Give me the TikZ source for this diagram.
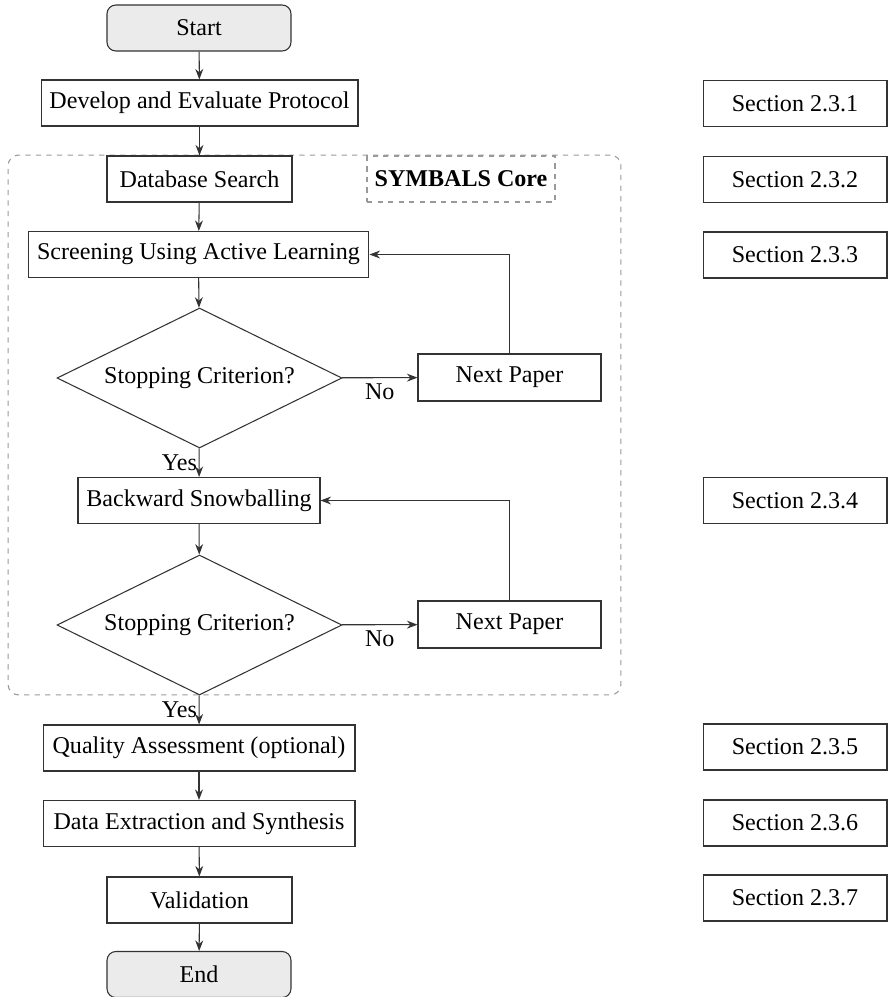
\documentclass[tikz,border=0pt]{standalone}
\usepackage{fontspec}
\setmainfont{Liberation Serif}
\usetikzlibrary{shapes.geometric,arrows.meta}
\definecolor{linec}{HTML}{333333}
\definecolor{termfill}{HTML}{EBEBEB}
\definecolor{dashc}{HTML}{999999}
\begin{document}
\begin{tikzpicture}[x=0.02cm,y=-0.02cm,
  font=\fontsize{13.7}{16}\selectfont,
  every path/.style={line width=0.6pt},
  box/.style={draw=linec,rectangle,minimum height=0.92cm,inner sep=0pt,text=black},
  term/.style={box,rounded corners=5pt,fill=termfill,minimum width=3.68cm},
  secbox/.style={box,minimum width=3.68cm},
  decis/.style={draw=linec,diamond,minimum width=5.7cm,minimum height=2.8cm,aspect=2.04,inner sep=0pt},
  arr/.style={draw=linec,-{Stealth[length=6pt,width=4.5pt]}},
  lbl/.style={inner sep=1pt}]
\useasboundingbox (0,0) rectangle (890,997);
% container
\node[draw=dashc,dashed,rounded corners=6pt,minimum width=12.26cm,minimum height=10.8cm,inner sep=0pt] (core) at (314.5,425) {};
\node[draw=dashc,dashed,minimum width=3.76cm,minimum height=0.92cm,inner sep=0pt,font=\fontsize{13.7}{16}\selectfont\bfseries] (corelbl) at (461,179) {SYMBALS Core};
% main flow
\node[term] (start) at (199,28) {Start};
\node[box,minimum width=6.34cm] (dev) at (199.5,103) {Develop and Evaluate Protocol};
\node[box,minimum width=3.7cm] (db) at (199.5,179) {Database Search};
\node[box,minimum width=6.82cm] (scr) at (198.5,254.5) {Screening Using Active Learning};
\node[decis] (d1) at (199.5,378) {Stopping Criterion?};
\node[box,minimum width=3.66cm,minimum height=0.94cm] (np1) at (509.5,377.5) {Next Paper};
\node[box,minimum width=4.84cm] (bs) at (199,500.5) {Backward Snowballing};
\node[decis] (d2) at (199.5,625) {Stopping Criterion?};
\node[box,minimum width=3.66cm,minimum height=0.94cm] (np2) at (509.5,624.5) {Next Paper};
\node[box,minimum width=6.24cm] (qa) at (199,748) {Quality Assessment (optional)};
\node[box,minimum width=6.24cm] (de) at (199,823.5) {Data Extraction and Synthesis};
\node[box,minimum width=3.7cm] (val) at (199.5,900) {Validation};
\node[term] (end) at (199,974.5) {End};
% section boxes
\node[secbox] (s1) at (795,103.5) {Section 2.3.1};
\node[secbox] (s2) at (795,179.5) {Section 2.3.2};
\node[secbox] (s3) at (795,255) {Section 2.3.3};
\node[secbox] (s4) at (795,500.5) {Section 2.3.4};
\node[secbox] (s5) at (795,747) {Section 2.3.5};
\node[secbox] (s6) at (795,823) {Section 2.3.6};
\node[secbox] (s7) at (795,898) {Section 2.3.7};
% connectors
\draw[arr] (start) -- (dev);
\draw[arr] (dev) -- (db);
\draw[arr] (db) -- (scr);
\draw[arr] (scr) -- (d1);
\draw[arr] (d1) -- node[lbl,below=2pt] {No} (np1);
\draw[arr] (np1.north) |- (scr.east);
\draw[arr] (d1) -- node[lbl,left] {Yes} (bs);
\draw[arr] (bs) -- (d2);
\draw[arr] (d2) -- node[lbl,below=2pt] {No} (np2);
\draw[arr] (np2.north) |- (bs.east);
\draw[arr] (d2) -- node[lbl,left] {Yes} (qa);
\draw[arr] (qa) -- (de);
\draw[arr] (de) -- (val);
\draw[arr] (val) -- (end);
\end{tikzpicture}
\end{document}
